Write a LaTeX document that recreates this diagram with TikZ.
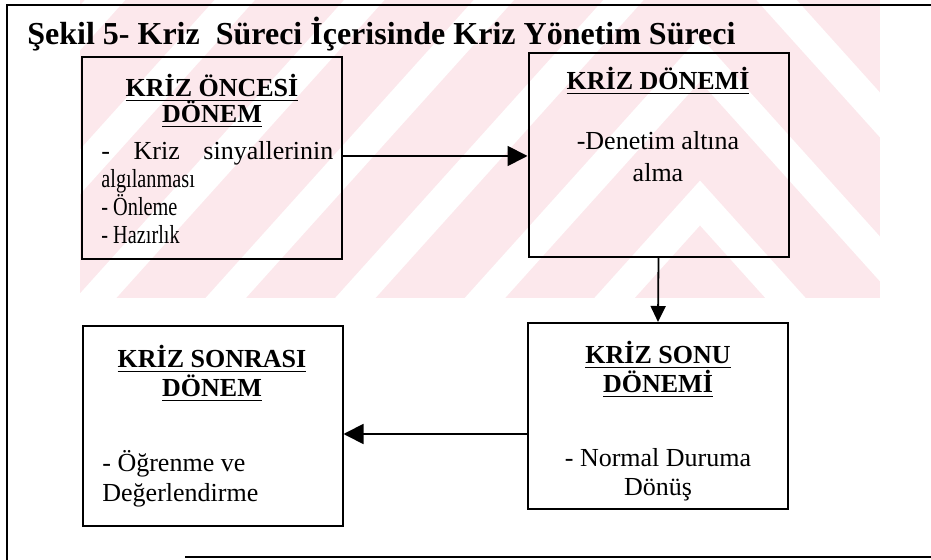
\documentclass[tikz,border=0pt]{standalone}
\usepackage{fontspec}
\setmainfont{Liberation Serif}
\newfontfamily\narrowfont[FakeStretch=0.78]{Liberation Serif}
\usetikzlibrary{arrows.meta}
\definecolor{wmark}{RGB}{252,232,236}
\tikzset{
  box/.style={draw,line width=1pt,minimum width=130pt,minimum height=101pt,inner sep=0pt},
  head/.style={anchor=base,font=\fontsize{13}{15}\selectfont\bfseries,inner sep=0pt},
  body/.style={anchor=base west,font=\fontsize{13}{15}\selectfont,inner sep=0pt},
  nbody/.style={anchor=base west,font=\fontsize{13}{15}\narrowfont,inner sep=0pt},
  cbody/.style={anchor=base,font=\fontsize{13}{15}\selectfont,inner sep=0pt},
  flow/.style={line width=0.9pt,-{Triangle[length=10pt,width=10pt]}}
}
\begin{document}
\begin{tikzpicture}[x=0.5pt,y=-0.5pt]
                    \useasboundingbox (0,0) rectangle (931,560);
                    \begin{scope}
                    \clip (80,0) rectangle (880,298);
                    \fill[wmark] (80,0) rectangle (880,298);
                    \foreach \a in {203,59,-85,-229,-373,-517,-661}
                      \draw[white,line width=15pt] ({700-0.9*(320-\a)},320) -- (700,\a) -- ({700+0.9*(320-\a)},320);
                    \end{scope}

                    \draw[line width=1.2pt] (7,560) -- (7,5) -- (931,5);
                    \draw[line width=1.4pt] (185,557) -- (931,557);

                    \node[anchor=base west,inner sep=0pt,font=\fontsize{16}{18}\selectfont\bfseries] (title) at (27,45) {Şekil 5- Kriz\ \ Süreci İçerisinde Kriz Yönetim Süreci};

                    \node[box,minimum height=101pt] (pre) at (212,158) {};
                    \node[head] (pre_h1) at (212,97) {\underline{KRİZ ÖNCESİ}};
                    \node[head] (pre_h2) at (212,123) {\underline{DÖNEM}};
                    \node[body] (pre_1) at (101,160) {\makebox[116pt][s]{- \ Kriz \ sinyallerinin}};
                    \node[nbody] (pre_2) at (101,188) {algılanması};
                    \node[nbody] (pre_3) at (101,216) {- Önleme};
                    \node[nbody] (pre_4) at (101,244) {- Hazırlık};

                    \node[box,minimum height=102pt] (during) at (658.5,155) {};
                    \node[head] (during_h) at (658,90) {\underline{KRİZ DÖNEMİ}};
                    \node[cbody] (during_1) at (658,150) {-Denetim altına};
                    \node[cbody] (during_2) at (658,182) {alma};

                    \node[box,minimum height=93pt] (end) at (658,416) {};
                    \node[head] (end_h1) at (658,364) {\underline{KRİZ SONU}};
                    \node[head] (end_h2) at (658,393) {\underline{DÖNEMİ}};
                    \node[cbody] (end_1) at (658,467) {- Normal Duruma};
                    \node[cbody] (end_2) at (658,495) {Dönüş};

                    \node[box,minimum height=100pt] (post) at (212.5,426) {};
                    \node[head] (post_h1) at (212,368) {\underline{KRİZ SONRASI}};
                    \node[head] (post_h2) at (212,397) {\underline{DÖNEM}};
                    \node[body] (post_1) at (102,472) {- Öğrenme ve};
                    \node[body] (post_2) at (102,502) {Değerlendirme};

                    \coordinate (a1) at (341,156);
                    \coordinate (a3) at (527,434);
                    \draw[flow] (a1) -- (a1 -| during.west);
                    \draw[flow,-{Triangle[length=8pt,width=7.5pt]}] (during.south) -- (end.north);
                    \draw[flow] (a3) -- (a3 -| post.east);
                \end{tikzpicture}
\end{document}
